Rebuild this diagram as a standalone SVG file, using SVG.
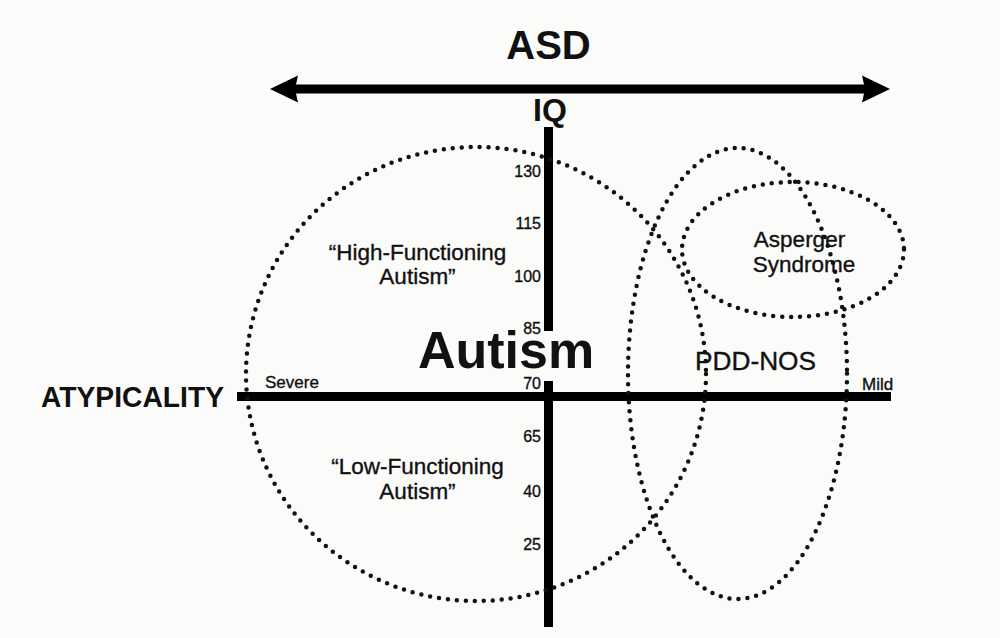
<svg xmlns="http://www.w3.org/2000/svg" width="1000" height="638" viewBox="0 0 1000 638">
<style>
text{font-family:"Liberation Sans",Arial,sans-serif;fill:#111}
.b{font-weight:bold}
.m{stroke:#111;stroke-width:0.35}
.tick{font-size:16px;text-anchor:end}
.lbl{font-size:22.5px;text-anchor:middle}
.dot{fill:none;stroke:#111;stroke-width:4.5;stroke-linecap:round;stroke-dasharray:0 9}
.axis{stroke:#000;stroke-width:9;fill:none}
</style>
<defs>
<marker id="ah" viewBox="0 0 28 28" refX="8" refY="14" markerWidth="28" markerHeight="28" markerUnits="userSpaceOnUse" orient="auto-start-reverse">
<path d="M28,14 L0,0.5 L3,14 L0,27.5 z" fill="#000"/>
</marker>
</defs>
<rect width="1000" height="638" fill="#fbfbfa"/>
<g id="connectors">
<line class="axis" x1="290" y1="89" x2="870" y2="89" stroke-width="8" marker-start="url(#ah)" marker-end="url(#ah)"/>
<line class="axis" x1="237" y1="396.5" x2="891" y2="396.5"/>
<line class="axis" x1="548.5" y1="127" x2="548.5" y2="331" stroke-width="9.5"/>
<line class="axis" x1="548.5" y1="381" x2="548.5" y2="627" stroke-width="9.5"/>
</g>
<g id="autism-region"><ellipse class="dot" cx="476" cy="374" rx="230" ry="227"/></g>
<g id="pddnos-region"><ellipse class="dot" cx="737.5" cy="373.5" rx="109.5" ry="225.5"/></g>
<g id="asperger-region"><ellipse class="dot" cx="793" cy="249.5" rx="111" ry="67.5"/></g>
<g id="titles">
<text class="b" x="548.5" y="59" font-size="40" text-anchor="middle">ASD</text>
<text class="b" x="550" y="121" font-size="32" text-anchor="middle">IQ</text>
<text class="b" x="41" y="407" font-size="29" textLength="183" lengthAdjust="spacingAndGlyphs">ATYPICALITY</text>
<text class="m" x="265" y="388" font-size="17">Severe</text>
<text class="m" x="862" y="390" font-size="17">Mild</text>
</g>
<g id="ticks" class="m">
<text class="tick" x="541" y="177">130</text>
<text class="tick" x="541" y="229">115</text>
<text class="tick" x="541" y="282">100</text>
<text class="tick" x="541" y="334">85</text>
<text class="tick" x="541" y="389">70</text>
<text class="tick" x="541" y="442">65</text>
<text class="tick" x="541" y="497">40</text>
<text class="tick" x="541" y="550">25</text>
</g>
<g id="autism"><text class="b" x="506" y="368" font-size="52" text-anchor="middle">Autism</text></g>
<g id="hfa" class="m"><text class="lbl" x="417.5" y="260">“High-Functioning</text><text class="lbl" x="417.5" y="284">Autism”</text></g>
<g id="lfa" class="m"><text class="lbl" x="417.5" y="474">“Low-Functioning</text><text class="lbl" x="417.5" y="499">Autism”</text></g>
<g id="asperger" class="m"><text class="lbl" x="799.5" y="247" font-size="22">Asperger</text><text class="lbl" x="804" y="272" font-size="22">Syndrome</text></g>
<g id="pddnos" class="m"><text x="755.5" y="370" font-size="25" text-anchor="middle" textLength="121" lengthAdjust="spacingAndGlyphs">PDD-NOS</text></g>
</svg>
